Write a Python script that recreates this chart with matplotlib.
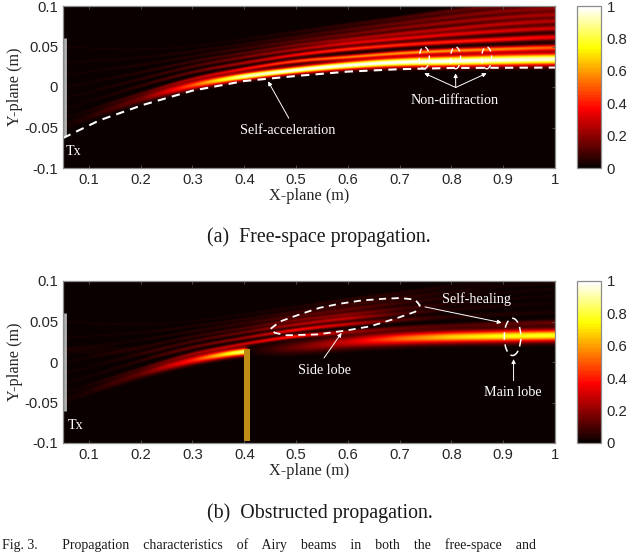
from __future__ import annotations

import numpy as np
import matplotlib
matplotlib.use("Agg")
import matplotlib.pyplot as plt
from matplotlib.patches import Ellipse, Rectangle

W, H = 640, 552
SERIF = "Liberation Serif"
SANS = "Liberation Sans"

X_TICKS = [0.1, 0.2, 0.3, 0.4, 0.5, 0.6, 0.7, 0.8, 0.9, 1.0]
X_LABELS = ["0.1", "0.2", "0.3", "0.4", "0.5", "0.6", "0.7", "0.8", "0.9", "1"]
Y_TICKS = [-0.1, -0.05, 0, 0.05, 0.1]
Y_LABELS = ["-0.1", "-0.05", "0", "0.05", "0.1"]
CBAR_TICKS = [0, 0.2, 0.4, 0.6, 0.8, 1]
CBAR_LABELS = ["0", "0.2", "0.4", "0.6", "0.8", "1"]

# beam tracks, main lobe first, then side lobes going up
KNOTS = [0.05, 0.1, 0.2, 0.3, 0.4, 0.5, 0.6, 0.7, 0.8, 0.9, 1.0]
CENTERS = [
    [-0.05, -0.036, -0.014, 0.003, 0.0135, 0.021, 0.027, 0.031, 0.032, 0.0335, 0.0346],
    [-0.04, -0.028, -0.008, 0.011, 0.0226, 0.0325, 0.037, 0.042, 0.045, 0.047, 0.049],
    [-0.028, -0.018, 0.002, 0.019, 0.03, 0.04, 0.047, 0.052, 0.056, 0.059, 0.062],
    [-0.015, -0.006, 0.01, 0.026, 0.037, 0.0465, 0.054, 0.0597, 0.065, 0.0695, 0.073],
    [-0.002, 0.006, 0.018, 0.032, 0.042, 0.052, 0.059, 0.066, 0.072, 0.078, 0.082],
    [0.014, 0.019, 0.027, 0.038, 0.048, 0.057, 0.065, 0.073, 0.08, 0.086, 0.09],
    [0.03, 0.032, 0.036, 0.044, 0.053, 0.062, 0.071, 0.079, 0.087, 0.094, 0.0975],
    [0.05, 0.048, 0.046, 0.05, 0.059, 0.068, 0.077, 0.085, 0.094, 0.101, 0.106],
]
FREE_PEAKS = [
    [0.02, 0.05, 0.16, 0.5, 0.95, 1.0, 1.0, 1.0, 1.0, 0.98, 0.96],
    [0.02, 0.03, 0.08, 0.22, 0.38, 0.5, 0.55, 0.58, 0.58, 0.55, 0.5],
    [0.02, 0.025, 0.07, 0.15, 0.26, 0.38, 0.45, 0.44, 0.42, 0.4, 0.36],
    [0.02, 0.025, 0.06, 0.11, 0.18, 0.26, 0.33, 0.35, 0.34, 0.32, 0.3],
    [0.02, 0.025, 0.05, 0.08, 0.12, 0.18, 0.24, 0.27, 0.28, 0.28, 0.26],
    [0.02, 0.025, 0.04, 0.05, 0.08, 0.12, 0.16, 0.2, 0.23, 0.24, 0.24],
    [0.02, 0.02, 0.03, 0.04, 0.05, 0.08, 0.11, 0.15, 0.18, 0.2, 0.2],
    [0.02, 0.02, 0.02, 0.02, 0.03, 0.05, 0.07, 0.1, 0.13, 0.15, 0.17],
]
BLOCKED_PEAKS = [
    [0.02, 0.04, 0.14, 0.42, 0.88, 0.0, 0.0, 0.0, 0.0, 0.0, 0.0],
    [0.02, 0.03, 0.07, 0.18, 0.3, 0.42, 0.2, 0.12, 0.1, 0.12, 0.14],
    [0.02, 0.025, 0.06, 0.13, 0.22, 0.38, 0.3, 0.12, 0.05, 0.04, 0.03],
    [0.02, 0.025, 0.05, 0.1, 0.15, 0.26, 0.28, 0.11, 0.04, 0.03, 0.02],
    [0.02, 0.025, 0.04, 0.07, 0.1, 0.18, 0.2, 0.1, 0.04, 0.02, 0.02],
    [0.02, 0.02, 0.03, 0.05, 0.07, 0.12, 0.14, 0.08, 0.04, 0.02, 0.02],
    [0.02, 0.02, 0.03, 0.04, 0.05, 0.07, 0.09, 0.07, 0.04, 0.02, 0.02],
    [0.02, 0.02, 0.02, 0.02, 0.03, 0.04, 0.06, 0.05, 0.03, 0.02, 0.02],
]
MAIN_SIGMA = [0.004, 0.0037, 0.0036, 0.0036, 0.003, 0.003, 0.0034, 0.004, 0.0046, 0.0049, 0.005]
SIDE_SIGMA = [0.0015, 0.0015, 0.0015, 0.0015, 0.0016, 0.0017, 0.0019, 0.002, 0.0022, 0.0024, 0.0026]

# main lobe building up again behind the obstacle
HEALED_X = [0.41, 0.5, 0.6, 0.7, 0.8, 0.9, 1.0]
HEALED_Y = [0.014, 0.018, 0.025, 0.029, 0.031, 0.032, 0.033]
HEALED_PEAK = [0.02, 0.15, 0.3, 0.52, 0.68, 0.76, 0.78]
HEALED_SIGMA = [0.005, 0.0055, 0.0055, 0.0052, 0.005, 0.005, 0.005]

ACCEL_X = [0.05, 0.121, 0.205, 0.3, 0.4, 0.5, 0.6, 0.7, 0.8, 1.0]
ACCEL_Y = [-0.063, -0.041, -0.022, -0.0045, 0.0074, 0.0136, 0.019, 0.022, 0.0235, 0.024]

SIDE_OUTLINE_X = [0.451, 0.469, 0.508, 0.546, 0.585, 0.627, 0.668, 0.701, 0.730, 0.739,
                  0.730, 0.694, 0.643, 0.598, 0.540, 0.482, 0.459, 0.451]
SIDE_OUTLINE_Y = [0.041, 0.050, 0.059, 0.067, 0.072, 0.076, 0.078, 0.079, 0.077, 0.070,
                  0.062, 0.054, 0.044, 0.039, 0.034, 0.033, 0.036, 0.041]

GRID_X = np.linspace(0.05, 1.0, 500)
GRID_Y = np.linspace(-0.1, 0.1, 500)


def soften(values, n=51):
    # takes the corners out of a track read at a few x positions
    padded = np.pad(values, n // 2, mode="edge")
    return np.convolve(padded, np.ones(n) / n, mode="valid")


def add_lobe(field, knots, centers, peaks, sigmas):
    c = soften(np.interp(GRID_X, knots, centers))
    p = np.interp(GRID_X, knots, peaks)
    s = soften(np.interp(GRID_X, knots, sigmas))
    field += p * np.exp(-((GRID_Y[:, None] - c) ** 2) / (2 * s**2))


def beam_field(peaks, blocked=False):
    field = np.zeros((GRID_Y.size, GRID_X.size))
    for i, (centers, row) in enumerate(zip(CENTERS, peaks)):
        sigmas = MAIN_SIGMA if i == 0 else SIDE_SIGMA
        knots, track, amp, sig = KNOTS, centers, row, sigmas
        if blocked and i == 0:
            # the obstacle stops the incoming main lobe at x = 0.41
            knots = KNOTS[:5] + [0.41]
            track = centers[:5] + [centers[4] + 0.001]
            amp = row[:5] + [0.0]
            sig = sigmas[:5] + [sigmas[4]]
        add_lobe(field, knots, track, amp, sig)
    if blocked:
        add_lobe(field, HEALED_X, HEALED_Y, HEALED_PEAK, HEALED_SIGMA)
    return np.clip(field, 0, 1)


def make_panel(fig, top, bottom, field):
    ax = fig.add_axes([63 / W, 1 - bottom / H, (555 - 63) / W, (bottom - top) / H])
    cmap = plt.get_cmap("hot", 64)
    im = ax.imshow(field, origin="lower", aspect="auto", cmap=cmap, vmin=0, vmax=1,
                   extent=[0.05, 1.0, -0.1, 0.1], interpolation="bilinear")
    ax.set_xlim(0.05, 1.0)
    ax.set_ylim(-0.1, 0.1)
    ax.set_xticks(X_TICKS, X_LABELS, family=SANS, fontsize=10.7)
    ax.set_yticks(Y_TICKS, Y_LABELS, family=SANS, fontsize=10.7)
    ax.tick_params(direction="in", length=2.5, width=0.6, color="#555555",
                   labelcolor="#262626", top=True, right=True, pad=3.5)
    ax.set_xlabel("X-plane (m)", family=SERIF, fontsize=11.7, color="#262626", labelpad=1)
    ax.set_ylabel("Y-plane (m)", family=SERIF, fontsize=11.7, color="#262626", labelpad=1)
    for spine in ax.spines.values():
        spine.set_color("#8c8c8c")
        spine.set_linewidth(0.9)
    # transmitter aperture
    ax.plot([0.053, 0.053], [-0.06, 0.06], color="#b4b4b4", lw=2.0, solid_capstyle="butt")

    cax = fig.add_axes([577 / W, 1 - bottom / H, 24 / W, (bottom - top) / H])
    cbar = fig.colorbar(im, cax=cax)
    cbar.set_ticks(CBAR_TICKS, labels=CBAR_LABELS)
    cbar.ax.tick_params(length=0, labelsize=10.7, labelcolor="#262626", pad=4)
    for label in cbar.ax.get_yticklabels():
        label.set_family(SANS)
    cbar.outline.set_edgecolor("#8c8c8c")
    cbar.outline.set_linewidth(0.9)
    return ax


def note(ax, text, x, y, size=10.2):
    ax.text(x, y, text, family=SERIF, fontsize=size, color="white", ha="center", va="center")


def arrow(ax, tail, head):
    ax.annotate("", xy=head, xytext=tail,
                arrowprops=dict(arrowstyle="-|>", color="white", lw=0.7,
                                mutation_scale=6, shrinkA=0, shrinkB=0))


def main():
    fig = plt.figure(figsize=(W / 100, H / 100), dpi=100, facecolor="white")

    ax0 = make_panel(fig, 6, 168, beam_field(FREE_PEAKS))
    ax0.plot(ACCEL_X, ACCEL_Y, color="white", lw=1.5, dashes=(4, 3))
    for cx in [0.7476, 0.808, 0.868]:
        ax0.add_patch(Ellipse((cx, 0.036), 0.0193, 0.027, fill=False, ec="white",
                              lw=1.0, ls=(0, (4, 3))))
        arrow(ax0, (0.8083, -0.0006), (cx, 0.017))
    arrow(ax0, (0.486, -0.0385), (0.446, 0.007))
    note(ax0, "Non-diffraction", 0.807, -0.0165)
    note(ax0, "Self-acceleration", 0.484, -0.0533)
    note(ax0, "Tx", 0.071, -0.0793)

    ax1 = make_panel(fig, 281, 443, beam_field(BLOCKED_PEAKS, blocked=True))
    ax1.add_patch(Rectangle((0.4, -0.097), 0.011, 0.113, fc="#c08c14", ec="none"))
    ax1.plot(SIDE_OUTLINE_X, SIDE_OUTLINE_Y, color="white", lw=1.3, dashes=(4, 3))
    ax1.add_patch(Ellipse((0.918, 0.031), 0.032, 0.046, fill=False, ec="white",
                          lw=1.1, ls=(0, (5, 3))))
    arrow(ax1, (0.749, 0.068), (0.897, 0.0485))
    arrow(ax1, (0.554, 0.005), (0.588, 0.036))
    arrow(ax1, (0.92, -0.023), (0.92, 0.0035))
    note(ax1, "Self-healing", 0.849, 0.0777)
    note(ax1, "Side lobe", 0.554, -0.011)
    note(ax1, "Main lobe", 0.919, -0.0375)
    note(ax1, "Tx", 0.075, -0.079)

    fig.text(319 / W, 1 - 237 / H, "(a)  Free-space propagation.", family=SERIF, fontsize=14.3,
             color="#1a1a1a", ha="center", va="center")
    fig.text(320 / W, 1 - 513 / H, "(b)  Obstructed propagation.", family=SERIF, fontsize=14.3,
             color="#1a1a1a", ha="center", va="center")
    # caption line of the source page, sits on the lower edge
    words = "Fig. 3.       Propagation    characteristics    of    Airy    beams    in    both    the    free-space    and"
    fig.text(2 / W, 1 - 548.5 / H, words, family=SERIF, fontsize=10, color="#1a1a1a",
             ha="left", va="baseline")
    fig.savefig("out.png", dpi=100, facecolor="white")
    plt.close(fig)


if __name__ == "__main__":
    main()
